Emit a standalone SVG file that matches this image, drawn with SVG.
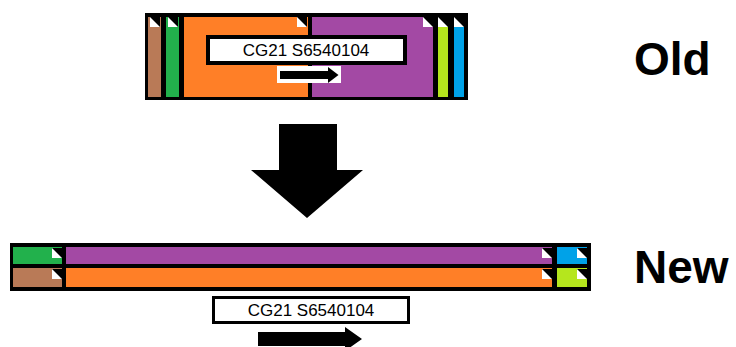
<svg xmlns="http://www.w3.org/2000/svg" width="736" height="347" viewBox="0 0 736 347">
<defs>
<style>
.lbl{font-family:"Liberation Sans","DejaVu Sans",sans-serif;font-size:17px;fill:#000;text-anchor:middle}
.big{font-family:"Liberation Sans","DejaVu Sans",sans-serif;font-size:46px;font-weight:bold;fill:#000}
.box{fill:#fff;stroke:#000}
.brown{fill:#B97A57}.green{fill:#22B14C}.orange{fill:#FF7F27}.purple{fill:#A349A4}.lime{fill:#B5E61D}.blue{fill:#00A2E8}
</style>
<g id="ico">
<rect x="0" y="0" width="10" height="10" fill="#fff"/>
<polygon points="0,0 10,0 10,10" fill="#000"/>
</g>
</defs>
<rect width="736" height="347" fill="#fff"/>

<g id="old">
<rect x="145" y="13" width="323" height="87" fill="#000"/>
<rect class="brown" x="148" y="17" width="13" height="80"/>
<rect class="green" x="166" y="17" width="13" height="80"/>
<rect class="orange" x="184" y="17" width="124" height="80"/>
<rect class="purple" x="312" y="17" width="121" height="80"/>
<rect class="lime" x="438" y="17" width="10" height="80"/>
<rect class="blue" x="454" y="17" width="10" height="80"/>
<use href="#ico" x="150" y="17"/>
<use href="#ico" x="168" y="17"/>
<use href="#ico" x="297" y="17"/>
<use href="#ico" x="423" y="17"/>
<use href="#ico" x="438" y="17"/>
<use href="#ico" x="454" y="17"/>
</g>

<g id="old-label">
<rect class="box" x="208" y="37" width="197" height="26" stroke-width="4"/>
<text class="lbl" x="306" y="56">CG21 S6540104</text>
</g>

<g id="old-arrow">
<rect x="277" y="66" width="64" height="17" fill="#fff"/>
<polygon points="280,71 328,71 328,67 338.5,75 328,83 328,79 280,79" fill="#000"/>
</g>

<g id="old-title">
<text class="big" x="634" y="75">Old</text>
</g>

<g id="connectors">
<polygon points="279,124 337,124 337,170 363,170 307,218 251,170 279,170" fill="#000"/>
</g>

<g id="new">
<rect x="10" y="243" width="581" height="48" fill="#000"/>
<rect class="green" x="13" y="247" width="49" height="17"/>
<rect class="purple" x="66" y="247" width="486" height="17"/>
<rect class="blue" x="557" y="247" width="30" height="17"/>
<rect class="brown" x="13" y="268" width="49" height="19"/>
<rect class="orange" x="66" y="268" width="486" height="19"/>
<rect class="lime" x="557" y="268" width="30" height="19"/>
<use href="#ico" x="52" y="248"/>
<use href="#ico" x="542" y="248"/>
<use href="#ico" x="577" y="248"/>
<use href="#ico" x="52" y="269"/>
<use href="#ico" x="542" y="269"/>
<use href="#ico" x="577" y="269"/>
</g>

<g id="new-label">
<rect class="box" x="213.5" y="297.5" width="195" height="25" stroke-width="3"/>
<text class="lbl" x="311" y="316">CG21 S6540104</text>
</g>

<g id="new-arrow">
<polygon points="258,332 345,332 345,327 362,339 345,351 345,346 258,346" fill="#000"/>
</g>

<g id="new-title">
<text class="big" x="634" y="283">New</text>
</g>
</svg>
